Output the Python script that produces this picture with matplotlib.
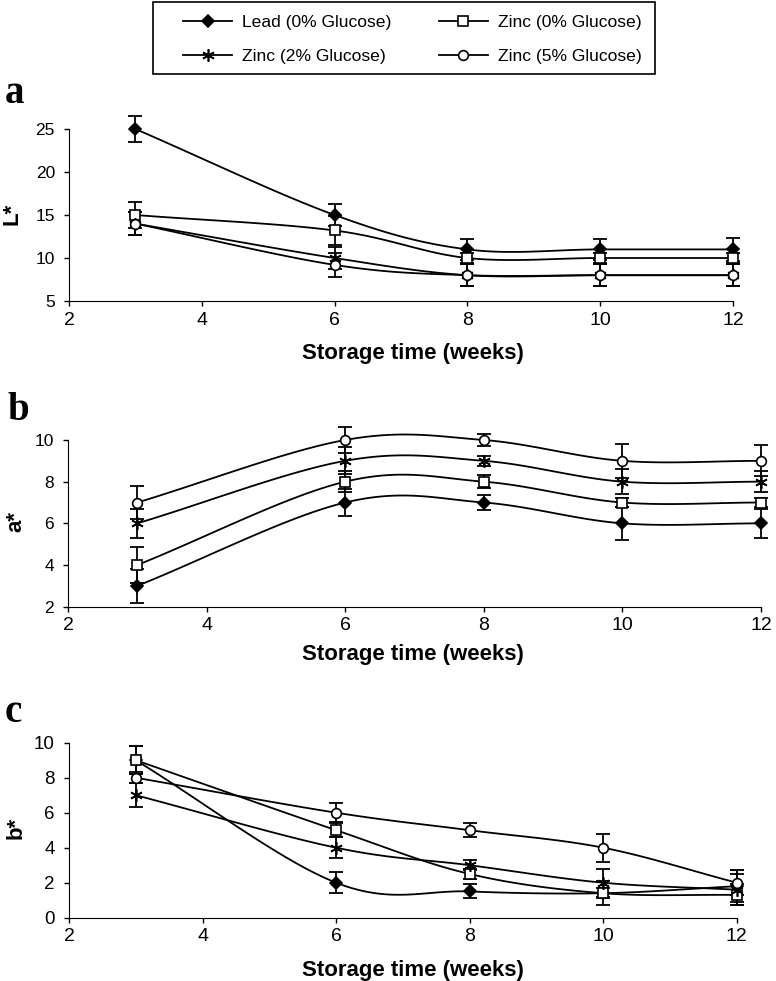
import numpy as np
import matplotlib
matplotlib.use("Agg")
import matplotlib.pyplot as plt
from matplotlib.lines import Line2D
from matplotlib.patches import Rectangle

plt.rcParams['font.family'] = ['Liberation Sans', 'DejaVu Sans']

weeks = [3, 6, 8, 10, 12]
series_names = ["Lead (0% Glucose)", "Zinc (0% Glucose)", "Zinc (2% Glucose)", "Zinc (5% Glucose)"]

# L*
L_lead = [25, 15, 11, 11, 11]
L_lead_err = [1.5, 1.3, 1.2, 1.2, 1.3]
L_zn0 = [15, 13.2, 10, 10, 10]
L_zn0_err = [1.5, 1.7, 0.6, 0.6, 0.6]
L_zn2 = [14, 10, 8, 8, 8]
L_zn2_err = [1.3, 1.3, 1.3, 1.3, 1.3]
L_zn5 = [14, 9.2, 8, 8, 8]
L_zn5_err = [1.3, 1.4, 1.3, 1.3, 1.3]

# a*
a_lead = [3, 7, 7, 6, 6]
a_lead_err = [0.8, 0.65, 0.35, 0.8, 0.7]
a_zn0 = [4, 8, 8, 7, 7]
a_zn0_err = [0.85, 0.5, 0.3, 0.2, 0.2]
a_zn2 = [6, 9, 9, 8, 8]
a_zn2_err = [0.7, 0.65, 0.25, 0.6, 0.5]
a_zn5 = [7, 10, 10, 9, 9]
a_zn5_err = [0.8, 0.6, 0.3, 0.8, 0.75]

# b*
b_lead = [9, 2, 1.5, 1.4, 1.8]
b_lead_err = [0.8, 0.6, 0.4, 0.7, 0.9]
b_zn0 = [9, 5, 2.5, 1.4, 1.3]
b_zn0_err = [0.8, 0.4, 0.3, 0.3, 0.6]
b_zn2 = [7, 4, 3, 2, 1.6]
b_zn2_err = [0.7, 0.6, 0.3, 0.8, 0.9]
b_zn5 = [8, 6, 5, 4, 2]
b_zn5_err = [0.3, 0.55, 0.4, 0.8, 0.7]

markers = ['D', 's', (6, 2, 0), 'o']
fills = ['black', 'white', 'black', 'white']
msizes = [6.5, 7, 9, 7]

W, H = 776, 981


def smooth(x, y, n=30):
    # bezier smoothing through the points, like a spreadsheet "smoothed line"
    x = np.asarray(x, float)
    y = np.asarray(y, float)
    px = np.concatenate([[2 * x[0] - x[1]], x, [2 * x[-1] - x[-2]]])
    py = np.concatenate([[2 * y[0] - y[1]], y, [2 * y[-1] - y[-2]]])
    xs, ys = [], []
    t = np.linspace(0, 1, n)
    for i in range(1, len(px) - 2):
        c1x = px[i] + (px[i + 1] - px[i - 1]) / 6
        c1y = py[i] + (py[i + 1] - py[i - 1]) / 6
        c2x = px[i + 1] - (px[i + 2] - px[i]) / 6
        c2y = py[i + 1] - (py[i + 2] - py[i]) / 6
        bx = (1 - t) ** 3 * px[i] + 3 * (1 - t) ** 2 * t * c1x + 3 * (1 - t) * t ** 2 * c2x + t ** 3 * px[i + 1]
        by = (1 - t) ** 3 * py[i] + 3 * (1 - t) ** 2 * t * c1y + 3 * (1 - t) * t ** 2 * c2y + t ** 3 * py[i + 1]
        xs.extend(bx)
        ys.extend(by)
    return xs, ys


fig = plt.figure(figsize=(W / 100, H / 100), dpi=100)

# pixel boxes: left, right, top, bottom ; ylabel pos ; letter pos ; xlabel baseline
panels = [
    ((69, 733, 129, 301), "L*", (12, 214), "a", (5, 103), 359, (5, 25), [5, 10, 15, 20, 25], 12.5,
     [(L_lead, L_lead_err), (L_zn0, L_zn0_err), (L_zn2, L_zn2_err), (L_zn5, L_zn5_err)]),
    ((68, 761, 440, 606.7), "a*", (16, 521), "b", (7, 420), 660, (2, 10), [2, 4, 6, 8, 10], 12.5,
     [(a_lead, a_lead_err), (a_zn0, a_zn0_err), (a_zn2, a_zn2_err), (a_zn5, a_zn5_err)]),
    ((69, 736.7, 742.7, 917.7), "b*", (16, 828), "c", (5, 722), 976, (0, 10), [0, 2, 4, 6, 8, 10], 13.5,
     [(b_lead, b_lead_err), (b_zn0, b_zn0_err), (b_zn2, b_zn2_err), (b_zn5, b_zn5_err)]),
]

for box, ylabel, ylpos, letter, lpos, xl_base, ylim, yticks, ysize, data in panels:
    l, r, t, b = box
    ax = fig.add_axes([l / W, 1 - b / H, (r - l) / W, (b - t) / H])
    for k, (vals, errs) in enumerate(data):
        sx, sy = smooth(weeks, vals)
        ax.plot(sx, sy, color='black', lw=1.3, zorder=2, clip_on=False)
        ax.errorbar(weeks, vals, yerr=errs, fmt='none', ecolor='black',
                    elinewidth=1.3, capsize=5, capthick=1.3, zorder=3, clip_on=False)
        ax.plot(weeks, vals, ls='none', marker=markers[k], mfc=fills[k], mec='black',
                mew=1.2, ms=msizes[k], zorder=4, clip_on=False)
    ax.set_xlim(2, 12)
    ax.set_ylim(*ylim)
    ax.set_xticks([2, 4, 6, 8, 10, 12])
    ax.set_yticks(yticks)
    ax.spines['top'].set_visible(False)
    ax.spines['right'].set_visible(False)
    ax.tick_params(length=3.6, width=1, direction='out')
    ax.tick_params(axis='x', labelsize=14, pad=4)
    ax.tick_params(axis='y', labelsize=ysize, pad=6.5)
    fig.text(413 / W, 1 - xl_base / H, "Storage time (weeks)", fontsize=16, fontweight='bold',
             ha='center', va='baseline')
    fig.text(ylpos[0] / W, 1 - ylpos[1] / H, ylabel, fontsize=16, fontweight='bold',
             rotation=90, ha='center', va='center')
    fig.text(lpos[0] / W, 1 - lpos[1] / H, letter, fontsize=28, fontweight='bold',
             family='Liberation Serif', ha='left', va='baseline')

handles = [Line2D([], [], color='black', lw=1.3, marker=markers[k], mfc=fills[k],
                  mec='black', mew=1.2, ms=msizes[k]) for k in range(4)]
order = [0, 2, 1, 3]
leg = fig.legend([handles[i] for i in order], [series_names[i] for i in order],
                 loc='upper left', bbox_to_anchor=(183 / W, 1 - 15 / H), ncol=2,
                 fontsize=12.6, frameon=False, handlelength=2.8, handletextpad=0.57,
                 columnspacing=2.7, borderpad=0, labelspacing=1.05, borderaxespad=0)
fig.patches.append(Rectangle((153 / W, 1 - 74 / H), (655 - 153) / W, 72 / H,
                             transform=fig.transFigure, fill=False, edgecolor='black', lw=1.2))

fig.savefig("out.png", dpi=100)
